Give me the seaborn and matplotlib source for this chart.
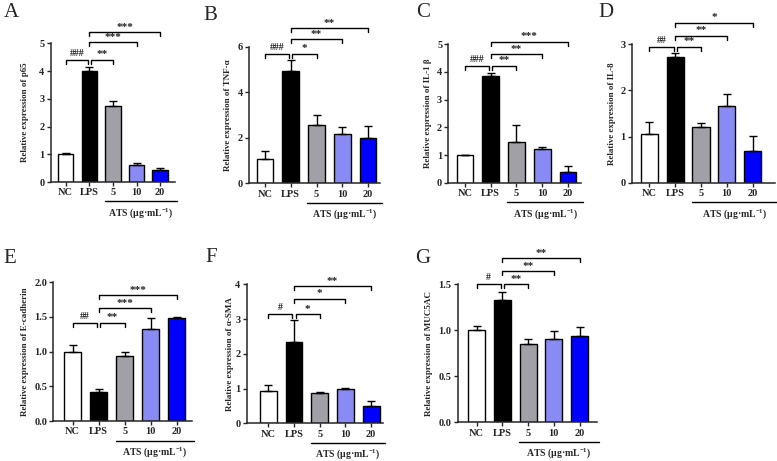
import numpy as np
import pandas as pd
import matplotlib
matplotlib.use('Agg')
import matplotlib.pyplot as plt
import seaborn as sns

sns.set_style('ticks')
plt.rcParams['font.family'] = ['Liberation Serif', 'DejaVu Serif']
plt.rcParams['font.weight'] = 'bold'
plt.rcParams['mathtext.fontset'] = 'custom'
plt.rcParams['mathtext.rm'] = 'Liberation Serif:bold'
plt.rcParams['mathtext.bf'] = 'Liberation Serif:bold'
plt.rcParams['mathtext.default'] = 'rm'

groups = ['NC', 'LPS', '5', '10', '20']
colors = ['#ffffff', '#000000', '#a0a0a6', '#8a8af5', '#0000ff']

# means and (upper) SD
p65 = [1.00, 4.01, 2.73, 0.63, 0.44]
p65_err = [0.04, 0.12, 0.19, 0.04, 0.05]
tnf = [1.06, 4.92, 2.56, 2.18, 2.00]
tnf_err = [0.37, 0.49, 0.42, 0.29, 0.51]
il1b = [0.99, 3.86, 1.46, 1.22, 0.37]
il1b_err = [0.02, 0.09, 0.64, 0.06, 0.24]
il8 = [1.05, 2.73, 1.21, 1.66, 0.69]
il8_err = [0.27, 0.09, 0.08, 0.27, 0.32]
ecad = [1.00, 0.42, 0.94, 1.33, 1.48]
ecad_err = [0.09, 0.04, 0.06, 0.15, 0.02]
sma = [0.93, 2.34, 0.88, 0.99, 0.51]
sma_err = [0.17, 0.62, 0.03, 0.02, 0.14]
muc = [1.00, 1.33, 0.85, 0.90, 0.94]
muc_err = [0.04, 0.08, 0.05, 0.09, 0.09]

ylabels = ['p65', 'TNF-α', 'IL-1 β', 'IL-8', 'E-cadherin', 'α-SMA', 'MUC5AC']
letters = ['A', 'B', 'C', 'D', 'E', 'F', 'G']

# significance marks: NC-LPS, LPS-5, LPS-10, LPS-20
sig = [['###', '**', '***', '***'],
       ['###', '*', '**', '**'],
       ['###', '**', '**', '***'],
       ['##', '**', '**', '*'],
       ['##', '**', '***', '***'],
       ['#', '*', '*', '**'],
       ['#', '**', '**', '**']]
sig_h = [[4.4, 4.4, 5.04, 5.4],
         [5.7, 5.7, 6.33, 6.8],
         [4.23, 4.23, 4.64, 5.1],
         [2.95, 2.95, 3.18, 3.47],
         [1.42, 1.42, 1.625, 1.81],
         [3.14, 3.14, 3.58, 3.94],
         [1.496, 1.496, 1.64, 1.78]]

panels = [(p65, p65_err), (tnf, tnf_err), (il1b, il1b_err), (il8, il8_err),
          (ecad, ecad_err), (sma, sma_err), (muc, muc_err)]

# pixel layout: y-axis x, NC centre, bar spacing, axis end, y0, top tick px, top tick, step, label offset
layout = [(50.5, 65.7, 23.6, 175, 182, 43.3, 5, 1, 21),
          (249, 265, 25.75, 380, 183.3, 46.7, 6, 2, 17),
          (448.5, 465, 25.75, 581, 182.7, 44.3, 5, 1, 16),
          (632, 649.3, 25.85, 775, 182.7, 44.3, 3, 1, 16),
          (53.3, 72.7, 26, 191.7, 421, 282.3, 2, 0.5, 24),
          (246.7, 268.3, 25.7, 383.3, 423.3, 284.3, 4, 1, 13),
          (457.5, 476.7, 25.7, 596.7, 422.3, 284, 1.5, 0.5, 25)]
letter_pos = [(4, 17), (203, 20), (416, 17), (598, 17), (3, 263), (205, 262), (415, 263)]

W, H = 777, 461
fig = plt.figure(figsize=(W / 100, H / 100), dpi=100)

for i, ((vals, errs), lay) in enumerate(zip(panels, layout)):
    yaxis, nc, sp, right, y0, ytop, yval, step, loff = lay
    scale = (y0 - ytop) / yval
    top_px = 15 if y0 < 300 else 250
    ax = fig.add_axes([yaxis / W, (H - y0) / H, (right - yaxis) / W, (y0 - top_px) / H])

    df = pd.DataFrame({'group': groups, 'value': vals})
    sns.barplot(data=df, x='group', y='value', hue='group', order=groups,
                hue_order=groups, palette=colors, saturation=1, legend=False,
                dodge=False, edgecolor='black', linewidth=1, width=0.66, ax=ax)
    ax.errorbar(np.arange(5), vals, yerr=[np.zeros(5), errs], fmt='none',
                ecolor='black', elinewidth=1, capsize=3.2, capthick=1)

    ax.set_xlim(-(nc - yaxis) / sp, (right - nc) / sp)
    ax.set_ylim(0, (y0 - top_px) / scale)
    sns.despine(ax=ax)
    ax.spines['left'].set_bounds(0, yval)
    for s in ['left', 'bottom']:
        ax.spines[s].set_linewidth(1.1)
    ticks = np.arange(0, yval + 1e-6, step)
    ax.set_yticks(ticks)
    if step < 1:
        ax.set_yticklabels([f'{t:.1f}' for t in ticks])
    ax.tick_params(axis='both', length=3, width=1, pad=1.5, labelsize=7.5)
    ax.set_xlabel('')
    ax.set_ylabel('Relative expression of ' + ylabels[i], fontsize=6.5,
                  fontweight='bold')
    ax.yaxis.set_label_coords(-loff / (right - yaxis), yval / 2,
                              transform=matplotlib.transforms.blended_transform_factory(
                                  ax.transAxes, ax.transData))

    # significance brackets
    tick = 4 / scale
    spans = [(0, 0.94), (1.06, 2), (1, 3), (1, 4)]
    for (xa, xb), h, s in zip(spans, sig_h[i], sig[i]):
        ax.plot([xa, xa, xb, xb], [h - tick, h, h, h - tick], color='black',
                lw=1, clip_on=False)
        if s.startswith('#'):
            fs, off = 7, 2.0
        else:
            fs, off = 8, 0.5
        ax.text((xa + xb) / 2, h + off / scale, s, ha='center', va='bottom',
                fontsize=fs, fontweight='bold', color='#222222')

    # ATS underline and label
    uy = -19.5 / scale
    xr = (right + 2 - nc) / sp
    ax.plot([1.65, xr], [uy, uy], color='black', lw=1, clip_on=False)
    ax.text((1.65 + xr) / 2, -31 / scale, r'ATS (μg·mL$^{-1}$)', ha='center',
            va='center', fontsize=7, fontweight='bold')

    lx, ly = letter_pos[i]
    fig.text(lx / W, 1 - ly / H, letters[i], fontsize=15, fontweight='normal',
             va='baseline', ha='left')

fig.savefig('out.png', dpi=100)
